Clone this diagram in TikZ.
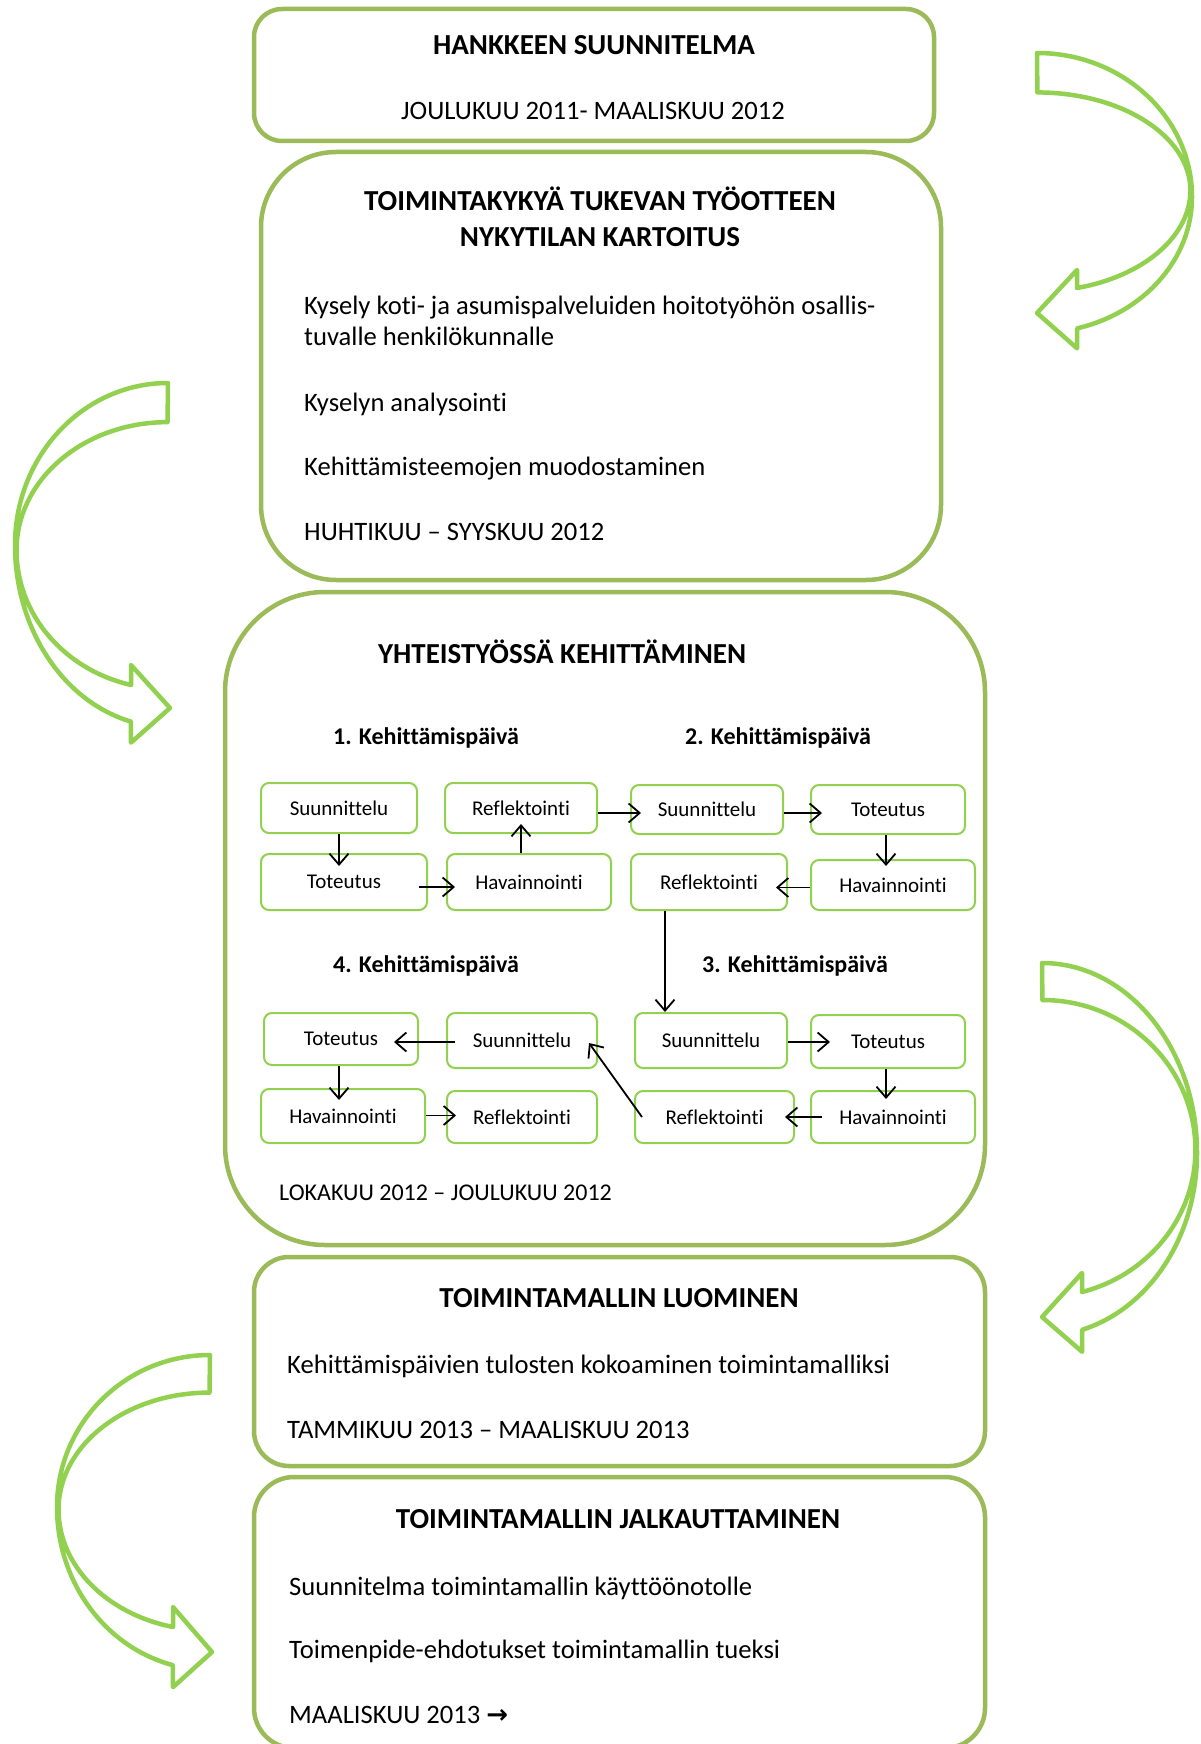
\documentclass[tikz,border=0pt]{standalone}
\usepackage{fontspec}
\setmainfont[Ligatures={NoCommon,NoContextual}]{Carlito}
\newfontfamily\symfont{DejaVu Sans}
\usetikzlibrary{arrows.meta,calc}
\definecolor{boxgreen}{HTML}{9BBB59}
\definecolor{lightgreen}{HTML}{92D050}

\begin{document}
\begin{tikzpicture}[x=1pt,y=1pt,
  bigbox/.style={draw=boxgreen,line width=4.5pt,inner sep=0pt},
  stepbox/.style={draw=lightgreen,line width=2pt,rounded corners=8pt,inner sep=0pt,
    font=\fontsize{21}{25}\selectfont},
  title/.style={inner sep=0pt,anchor=base,font=\fontsize{29}{35}\selectfont\bfseries},
  daytitle/.style={inner sep=0pt,anchor=base,font=\fontsize{24}{29}\selectfont\bfseries},
  body/.style={inner sep=0pt,anchor=base west,font=\fontsize{26.6}{32}\selectfont},
  bodyc/.style={inner sep=0pt,anchor=base,font=\fontsize{26.6}{32}\selectfont},
  small/.style={inner sep=0pt,anchor=base west,font=\fontsize{24}{29}\selectfont},
  flow/.style={line width=1.8pt,-{Straight Barb[length=11pt,width=19pt,line width=1.8pt]}},
  curved/.style={draw=lightgreen,line width=4.5pt,line join=round}
]
\fill[white] (0,0) rectangle (1200,-1744);
\useasboundingbox (0,0) rectangle (1200,-1744);

% ---- main phase boxes ----
\node[bigbox,rounded corners=28pt,minimum width=680pt,minimum height=132pt] (b1) at (594,-75) {};
\node[bigbox,rounded corners=75pt,minimum width=680pt,minimum height=428pt] (b2) at (601,-366) {};
\node[bigbox,rounded corners=100pt,minimum width=760pt,minimum height=653pt] (b3) at (605,-918.5) {};
\node[bigbox,rounded corners=35pt,minimum width=731pt,minimum height=209pt] (b4) at (619.5,-1361.5) {};
\node[bigbox,rounded corners=40pt,minimum width=731pt,minimum height=271pt] (b5) at (619.5,-1612.5) {};

% ---- phase 1 ----
\node[title] (t1) at (594,-55) {HANKKEEN SUUNNITELMA};
\node[bodyc] (t1d) at (593,-119.5) {JOULUKUU 2011- MAALISKUU 2012};

% ---- phase 2 ----
\node[title] (t2a) at (600,-211) {TOIMINTAKYKYÄ TUKEVAN TYÖOTTEEN};
\node[title] (t2b) at (600,-247) {NYKYTILAN KARTOITUS};
\node[body] (t2c) at (304,-314.5) {Kysely koti- ja asumispalveluiden hoitotyöhön osallis-};
\node[body] (t2d) at (304,-345.5) {tuvalle henkilökunnalle};
\node[body] (t2e) at (304,-411.5) {Kyselyn analysointi};
\node[body] (t2f) at (304,-475.5) {Kehittämisteemojen muodostaminen};
\node[body] (t2g) at (304,-540.5) {HUHTIKUU – SYYSKUU 2012};

% ---- phase 3 ----
\node[title] (t3) at (562,-663) {YHTEISTYÖSSÄ KEHITTÄMINEN};
\node[daytitle] (k1) at (426,-744) {1. Kehittämispäivä};
\node[daytitle] (k2) at (778,-744) {2. Kehittämispäivä};
\node[daytitle] (k4) at (426,-972) {4. Kehittämispäivä};
\node[daytitle] (k3) at (795,-972) {3. Kehittämispäivä};
\node[small] (t3d) at (279,-1200) {LOKAKUU 2012 – JOULUKUU 2012};

% day 1
\node[stepbox,minimum width=156pt,minimum height=50pt] (d1s) at (339,-808) {Suunnittelu};
\node[stepbox,minimum width=152pt,minimum height=50pt] (d1r) at (521,-808) {Reflektointi};
\node[stepbox,minimum width=166pt,minimum height=56pt] (d1t) at (344,-882) {Toteutus};
\node[stepbox,minimum width=164pt,minimum height=56pt] (d1h) at (529,-882) {Havainnointi};
% day 2
\node[stepbox,minimum width=152pt,minimum height=49pt] (d2s) at (707,-809.5) {Suunnittelu};
\node[stepbox,minimum width=154pt,minimum height=49pt] (d2t) at (888,-809.5) {Toteutus};
\node[stepbox,minimum width=156pt,minimum height=56pt] (d2r) at (709,-882) {Reflektointi};
\node[stepbox,minimum width=164pt,minimum height=50pt] (d2h) at (893,-885) {Havainnointi};
% day 3
\node[stepbox,minimum width=152pt,minimum height=55pt] (d3s) at (711,-1040.5) {Suunnittelu};
\node[stepbox,minimum width=154pt,minimum height=53pt] (d3t) at (888,-1041.5) {Toteutus};
\node[stepbox,minimum width=159pt,minimum height=52pt] (d3r) at (714.5,-1117) {Reflektointi};
\node[stepbox,minimum width=164pt,minimum height=52pt] (d3h) at (893,-1117) {Havainnointi};
% day 4
\node[stepbox,minimum width=154pt,minimum height=52pt] (d4t) at (341,-1039) {Toteutus};
\node[stepbox,minimum width=150pt,minimum height=55pt] (d4s) at (522,-1040.5) {Suunnittelu};
\node[stepbox,minimum width=164pt,minimum height=54pt] (d4h) at (343,-1116) {Havainnointi};
\node[stepbox,minimum width=150pt,minimum height=52pt] (d4r) at (522,-1117) {Reflektointi};

% cycle arrows
\draw[flow] (d1s.south) -- ($(d1s.south |- d1t.north)+(0,-13)$);
\draw[flow] ($(d1t.east)+(-9,-5)$) -- ($(d1t.east -| d1h.west)+(9,-5)$);
\draw[flow] (d1r.south |- d1h.north) -- ($(d1r.south)+(0,10)$);
\draw[flow] ($(d1r.east)+(0,-5)$) -- ($(d1r.east -| d2s.west)+(11,-5)$);
\draw[flow] ($(d2s.east)+(0,-3.5)$) -- ($(d2s.east -| d2t.west)+(12,-3.5)$);
\draw[flow] ($(d2t.south)+(-2,0)$) -- ($(d2t.south |- d2h.north)+(-2,-7)$);
\draw[flow] ($(d2h.west)+(0,-2.5)$) -- ($(d2h.west -| d2r.east)+(-12,-2.5)$);
\draw[flow] ($(d2r.south)+(-44,0)$) -- ($(d2r.south |- d3s.north)+(-44,0)$);
\draw[flow] ($(d3s.east)+(0,-1.5)$) -- ($(d3s.east -| d3t.west)+(20,-1.5)$);
\draw[flow] ($(d3t.south)+(-2,0)$) -- ($(d3t.south |- d3h.north)+(-2,-9)$);
\draw[flow] ($(d3h.west)+(12,0)$) -- ($(d3h.west -| d3r.east)+(-10,0)$);
\draw[flow] ($(d3r.west)+(8,0)$) -- ($(d4s.east)+(-9,-2.5)$);
\draw[flow] ($(d4s.west)+(9,-1.5)$) -- ($(d4s.west -| d4t.east)+(-25,-1.5)$);
\draw[flow] ($(d4t.south)+(-2,0)$) -- ($(d4t.south |- d4h.north)+(-2,-12)$);
\draw[flow] ($(d4h.east)+(0,0.5)$) -- ($(d4h.east -| d4r.west)+(10,0.5)$);

% ---- phase 4 ----
\node[title] (t4) at (619,-1307) {TOIMINTAMALLIN LUOMINEN};
\node[body] (t4b) at (287,-1373.5) {Kehittämispäivien tulosten kokoaminen toimintamalliksi};
\node[body] (t4c) at (287,-1438.5) {TAMMIKUU 2013 – MAALISKUU 2013};

% ---- phase 5 ----
\node[title] (t5) at (618,-1528) {TOIMINTAMALLIN JALKAUTTAMINEN};
\node[body] (t5b) at (289,-1595.5) {Suunnitelma toimintamallin käyttöönotolle};
\node[body] (t5c) at (289,-1658.5) {Toimenpide-ehdotukset toimintamallin tueksi};
\node[body] (t5d) at (289,-1723.5) {MAALISKUU 2013 {\symfont\bfseries\fontsize{26}{30}\selectfont →}};

% ---- curved block arrows between phases ----
\draw[curved] (1037,-53) arc[start angle=90,end angle=0,x radius=155,y radius=144]
  arc[start angle=0,end angle=-75,x radius=155,y radius=136]
  -- ++(0,-20) -- (1037,-313) -- (1077,-270) -- (1077,-288)
  arc[start angle=-75,end angle=0,x radius=153,y radius=101]
  arc[start angle=0,end angle=90,x radius=153,y radius=98] -- cycle;

\draw[curved] (168,-383) arc[start angle=90,end angle=180,x radius=153,y radius=162]
  arc[start angle=180,end angle=256,x radius=153,y radius=182]
  -- ++(0,-21) -- (170,-708) -- (131,-665) -- (131,-685)
  arc[start angle=256,end angle=180,x radius=151,y radius=139]
  arc[start angle=180,end angle=90,x radius=151,y radius=128] -- cycle;

\draw[curved] (1042,-963) arc[start angle=90,end angle=0,x radius=155,y radius=190]
  arc[start angle=0,end angle=-75,x radius=155,y radius=183]
  -- ++(0,-22) -- (1042,-1317) -- (1082,-1273) -- (1082,-1292)
  arc[start angle=-75,end angle=0,x radius=153,y radius=147]
  arc[start angle=0,end angle=90,x radius=153,y radius=150] -- cycle;

\draw[curved] (210,-1355) arc[start angle=90,end angle=180,x radius=153,y radius=152]
  arc[start angle=180,end angle=256,x radius=153,y radius=163]
  -- ++(0,-22) -- (212,-1652) -- (173,-1607) -- (173,-1627)
  arc[start angle=256,end angle=180,x radius=151,y radius=121]
  arc[start angle=180,end angle=90,x radius=151,y radius=117] -- cycle;
\end{tikzpicture}
\end{document}
